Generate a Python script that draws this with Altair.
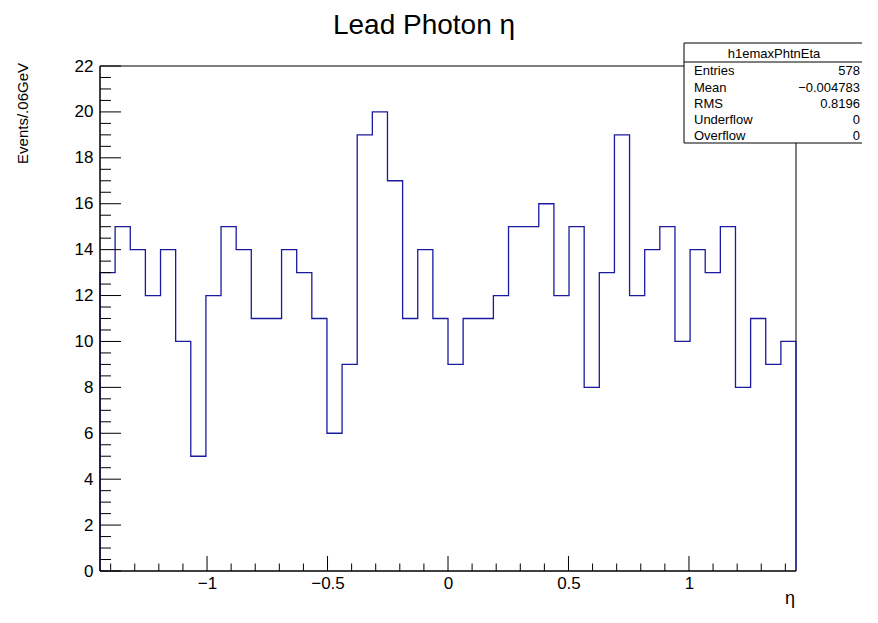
import altair as alt
import pandas as pd
import numpy as np

# ---------------- data ----------------
counts = [13, 15, 14, 12, 14, 10, 5, 12, 15, 14,
          11, 11, 14, 13, 11, 6, 9, 19, 20, 17,
          11, 14, 11, 9, 11, 11, 12, 15, 15, 16,
          12, 15, 8, 13, 19, 12, 14, 15, 10, 14,
          13, 15, 8, 11, 9, 10]
eta_lo = -1.4442
eta_hi = 1.4442
x_major = [-1, -0.5, 0, 0.5, 1]
x_minor = [round(v, 1) for v in np.arange(-1.4, 1.41, 0.1) if round(v, 1) not in (-1, -0.5, 0, 0.5, 1)]
y_major = list(range(0, 23, 2))
y_minor = [v + 0.5 * k for v in range(0, 22, 2) for k in (1, 2, 3)]
stat_names = ["Entries", "Mean", "RMS", "Underflow", "Overflow"]
stat_values = ["578", "\u22120.004783", "0.8196", "0", "0"]
hist_name = "h1emaxPhtnEta"
title_text = "Lead Photon \u03b7"
ytitle_text = "Events/.06GeV"
xtitle_text = "\u03b7"

# ---------------- layout ----------------
W, H = 696, 505
FONT = "Liberation Sans"
BLUE = "#1a1aa0"

edges = np.linspace(eta_lo, eta_hi, len(counts) + 1)
pts = [(edges[0], 0)]
for i, c in enumerate(counts):
    pts.append((edges[i], c))
    pts.append((edges[i + 1], c))
pts.append((edges[-1], 0))
hist_df = pd.DataFrame({"x": [p[0] for p in pts], "y": [p[1] for p in pts], "o": range(len(pts))})

xscale = alt.Scale(domain=[eta_lo, eta_hi], nice=False, zero=False)
yscale = alt.Scale(domain=[0, 22], nice=False, zero=True)
xaxis = alt.Axis(values=x_major, format="~g", ticks=False, domain=False, grid=False,
                 labelFontSize=17, labelFont=FONT, labelColor="black", labelPadding=4, title=None)
yaxis = alt.Axis(values=y_major, format="~g", ticks=False, domain=False, grid=False,
                 labelFontSize=17, labelFont=FONT, labelColor="black", labelPadding=7, title=None)

frame = alt.Chart(pd.DataFrame({"a": [0]})).mark_rect(fillOpacity=0, stroke="black", strokeWidth=1).encode(
    x=alt.value(0), x2=alt.value(W), y=alt.value(0), y2=alt.value(H))

hist = alt.Chart(hist_df).mark_line(color=BLUE, strokeWidth=1.3, interpolate="linear").encode(
    x=alt.X("x:Q", scale=xscale, axis=xaxis),
    y=alt.Y("y:Q", scale=yscale, axis=yaxis),
    order="o:Q")

axis_lines = alt.layer(
    alt.Chart(pd.DataFrame({"a": [0]})).mark_rule(color="black", strokeWidth=1).encode(
        x=alt.value(0), x2=alt.value(W), y=alt.value(H)),
    alt.Chart(pd.DataFrame({"a": [0]})).mark_rule(color="black", strokeWidth=1).encode(
        x=alt.value(0), y=alt.value(0), y2=alt.value(H)),
)

xmaj = alt.Chart(pd.DataFrame({"x": x_major})).mark_rule(color="black").encode(
    x=alt.X("x:Q", scale=xscale, axis=xaxis), y=alt.value(H), y2=alt.value(H - 15))
xmin = alt.Chart(pd.DataFrame({"x": x_minor})).mark_rule(color="black").encode(
    x=alt.X("x:Q", scale=xscale, axis=xaxis), y=alt.value(H), y2=alt.value(H - 7.5))
ymaj = alt.Chart(pd.DataFrame({"y": y_major})).mark_rule(color="black").encode(
    y=alt.Y("y:Q", scale=yscale, axis=yaxis), x=alt.value(0), x2=alt.value(21))
ymin = alt.Chart(pd.DataFrame({"y": y_minor})).mark_rule(color="black").encode(
    y=alt.Y("y:Q", scale=yscale, axis=yaxis), x=alt.value(0), x2=alt.value(11))

# stats box
bx0, bx1, by0, by1 = 584, 764, -23, 77
box = alt.Chart(pd.DataFrame({"a": [0]})).mark_rect(fill="white", stroke="black", strokeWidth=1).encode(
    x=alt.value(bx0), x2=alt.value(bx1), y=alt.value(by0), y2=alt.value(by1))
sep = alt.Chart(pd.DataFrame({"a": [0]})).mark_rule(color="black", strokeWidth=1).encode(
    x=alt.value(bx0), x2=alt.value(bx1), y=alt.value(-4))
header = alt.Chart(pd.DataFrame({"t": [hist_name]})).mark_text(
    font=FONT, fontSize=13, align="center", baseline="alphabetic", color="black").encode(
    text="t:N", x=alt.value((bx0 + bx1) / 2), y=alt.value(-8))

row_y = [9, 25.5, 41.5, 58, 74]
stat_layers = []
for name, val, yy in zip(stat_names, stat_values, row_y):
    d = pd.DataFrame({"n": [name], "v": [val]})
    stat_layers.append(alt.Chart(d).mark_text(font=FONT, fontSize=13, align="left", baseline="alphabetic",
                                              color="black").encode(text="n:N", x=alt.value(bx0 + 10), y=alt.value(yy)))
    stat_layers.append(alt.Chart(d).mark_text(font=FONT, fontSize=13, align="right", baseline="alphabetic",
                                              color="black").encode(text="v:N", x=alt.value(bx1 - 4), y=alt.value(yy)))

title = alt.Chart(pd.DataFrame({"t": [title_text]})).mark_text(
    font=FONT, fontSize=28, align="center", baseline="alphabetic", color="black").encode(
    text="t:N", x=alt.value(324), y=alt.value(-32))
ytitle = alt.Chart(pd.DataFrame({"t": [ytitle_text]})).mark_text(
    font=FONT, fontSize=15, align="right", baseline="alphabetic", angle=270, color="black").encode(
    text="t:N", x=alt.value(-72), y=alt.value(-3))
xtitle = alt.Chart(pd.DataFrame({"t": [xtitle_text]})).mark_text(
    font=FONT, fontSize=18, align="right", baseline="alphabetic", color="black").encode(
    text="t:N", x=alt.value(695), y=alt.value(538))

chart = alt.layer(frame, hist, axis_lines, xmaj, xmin, ymaj, ymin, box, sep, header, *stat_layers,
                  title, ytitle, xtitle).properties(
    width=W, height=H,
    autosize=alt.AutoSizeParams(type="none"),
    padding={"left": 92, "top": 58, "right": 66, "bottom": 44},
    background="white",
).configure_view(strokeWidth=0)

chart.save("out.html", embed_options={"renderer": "svg", "actions": False})
